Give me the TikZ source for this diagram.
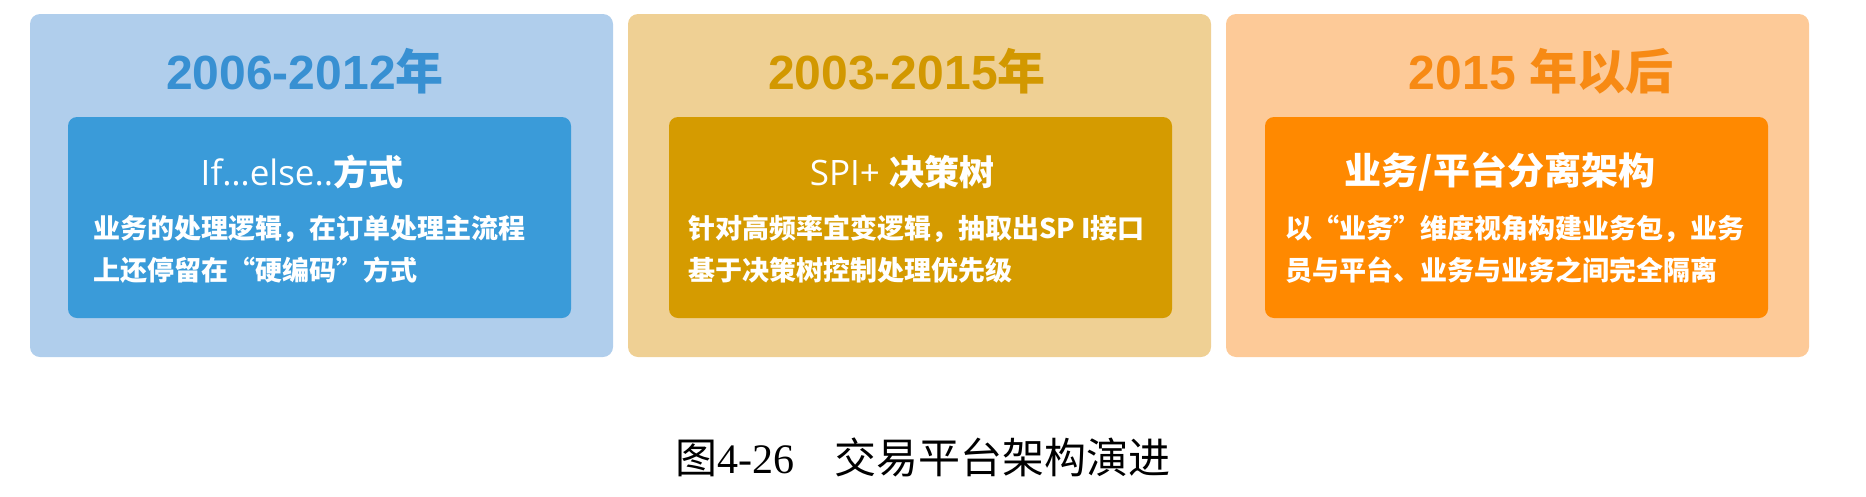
\documentclass[tikz,border=0pt]{standalone}
\usepackage{fontspec}
\setmainfont{Liberation Sans}
\newfontfamily\cjk{Noto Sans CJK SC}
\newfontfamily\lat{Open Sans}
\newfontfamily\tim{Liberation Serif}
\definecolor{bOut}{HTML}{B0CEEC}
\definecolor{bIn}{HTML}{3A9BD9}
\definecolor{bTit}{HTML}{3890D2}
\definecolor{yOut}{HTML}{EFD094}
\definecolor{yIn}{HTML}{D59B00}
\definecolor{yTit}{HTML}{D29800}
\definecolor{oOut}{HTML}{FDCA98}
\definecolor{oIn}{HTML}{FF8900}
\definecolor{oTit}{HTML}{F78A14}
\tikzset{
  x=1pt, y=-1pt,
  outerbox/.style={rounded corners=10pt},
  innerbox/.style={rounded corners=9pt},
  titletext/.style={inner sep=0pt, font=\fontsize{48}{54}\selectfont\bfseries},
  subtext/.style={inner sep=0pt, text=white, font=\fontsize{35}{40}\selectfont},
  bodytext/.style={inner sep=0pt, anchor=west, text=white, font=\cjk\bfseries\fontsize{27}{32}\selectfont},
}
\begin{document}
\begin{tikzpicture}
\useasboundingbox (0,0) rectangle (1866,496);
% panel 1
\fill[bOut, outerbox] (30,14) rectangle (613,357);
\fill[bIn, innerbox] (68,117) rectangle (571,318);
\node[titletext, text=bTit] (t1) at (305,71) {2006-2012\cjk 年};
\node[subtext] (s1) at (302,172) {\lat If…else..\cjk\bfseries 方式};
\node[bodytext] (b1a) at (93,229) {业务的处理逻辑，在订单处理主流程};
\node[bodytext] (b1b) at (93,270) {上还停留在“硬编码”方式};
% panel 2
\fill[yOut, outerbox] (628,14) rectangle (1211,357);
\fill[yIn, innerbox] (669,117) rectangle (1172,318);
\node[titletext, text=yTit] (t2) at (907,71) {2003-2015\cjk 年};
\node[subtext] (s2) at (902,172) {\lat SPI+ \cjk\bfseries 决策树};
\node[bodytext] (b2a) at (688,229) {针对高频率宜变逻辑，抽取出SP I接口};
\node[bodytext] (b2b) at (688,270) {基于决策树控制处理优先级};
% panel 3
\fill[oOut, outerbox] (1226,14) rectangle (1809,357);
\fill[oIn, innerbox] (1265,117) rectangle (1768,318);
\node[titletext, text=oTit] (t3) at (1541,71) {2015 \cjk 年以后};
\node[subtext, font=\fontsize{37}{42}\selectfont] (s3) at (1500,172) {\cjk\bfseries 业务/平台分离架构};
\node[bodytext] (b3a) at (1285,229) {以“业务”维度视角构建业务包，业务};
\node[bodytext] (b3b) at (1285,270) {员与平台、业务与业务之间完全隔离};
% caption
\node[inner sep=0pt, anchor=west, font=\fontsize{42}{47}\selectfont] (cap) at (675,457) {\cjk 图\tim 4-26\hspace{40pt}\cjk 交易平台架构演进};
\end{tikzpicture}
\end{document}
